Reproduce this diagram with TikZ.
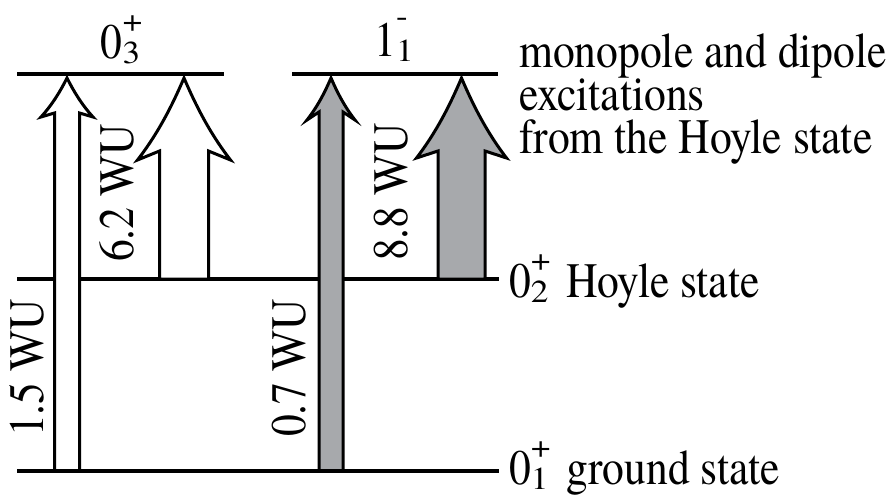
\documentclass[tikz,border=0pt]{standalone}
\usepackage{graphicx}
\usepackage{fontspec}
\setmainfont{texgyretermes}[Extension=.otf, UprightFont=*-regular]
\newcommand\mainsz{\fontsize{49.5}{43}\selectfont}
\newcommand\scrsz{\fontsize{32}{32}\selectfont}
\newcommand\scr[1]{\scalebox{1.25}[1]{\scrsz #1}}
\newcommand\spinlabel[4]{#1\rlap{\raisebox{#4}{\scr{#3}}}\raisebox{-5pt}{\scr{#2}}}
\definecolor{wugray}{HTML}{A7A9AC}
\tikzset{
  level/.style={line width=4.5pt},
  arrowline/.style={line width=3pt, line join=miter},
  txt/.style={inner sep=0pt, font=\mainsz},
  cond/.style={xscale=0.88},
  wulabel/.style={txt, rotate=90, cond, anchor=base},
}
% fill, cx, half shaft, half head, tip y, shoulder y, barb y, bottom y
\newcommand\wuarrow[8]{%
  \draw[arrowline, fill=#1]
    ({#2-#3},{#8}) -- ({#2-#3},{#6}) -- ({#2-#4},{#7})
    .. controls ({#2-0.55*#4},{#5+0.67*(#7-#5)}) and ({#2-0.25*#4},{#5+0.33*(#7-#5)}) .. ({#2},{#5})
    .. controls ({#2+0.25*#4},{#5+0.33*(#7-#5)}) and ({#2+0.55*#4},{#5+0.67*(#7-#5)}) .. ({#2+#4},{#7})
    -- ({#2+#3},{#6}) -- ({#2+#3},{#8}) -- cycle;}
\begin{document}
\begin{tikzpicture}[x=1pt,y=-1pt]
\useasboundingbox (0,0) rectangle (894,497);
% levels
\draw[level] (17,279) -- (499,279);
\draw[level] (17,74) -- (224,74);
\draw[level] (292,74) -- (498,74);
% arrows
\wuarrow{white}{67}{12.5}{26}{78}{113}{117}{471}
\wuarrow{white}{184}{24.5}{46.5}{78}{151}{160}{279}
\wuarrow{wugray}{331}{12}{24}{78}{112}{120}{471}
\wuarrow{wugray}{461.5}{23.5}{45}{78}{151}{158}{279}
\draw[level] (17,471) -- (499,471);
% state labels
\node[txt, cond, anchor=base] (s03) at (120.5,59) {\spinlabel{0}{3}{+}{27pt}};
\node[txt, cond, anchor=base] (s11) at (394,57) {\spinlabel{1}{1}{-}{30pt}};
\node[txt, cond, anchor=base west] (s02) at (509,297) {\spinlabel{0}{2}{+}{27pt}\hspace{20pt}Hoyle state};
\node[txt, cond, anchor=base west] (s01) at (509,484) {\spinlabel{0}{1}{+}{27pt}\hspace{20pt}ground state};
\node[txt, cond, anchor=north west, align=left] (desc) at (519,33)
  {monopole and dipole\\excitations\\from the Hoyle state};
% strengths
\node[wulabel] (w15) at (43,368) {1.5 WU};
\node[wulabel] (w62) at (133,193) {6.2 WU};
\node[wulabel] (w07) at (305,368) {0.7 WU};
\node[wulabel] (w88) at (407,192) {8.8 WU};
\end{tikzpicture}
\end{document}
